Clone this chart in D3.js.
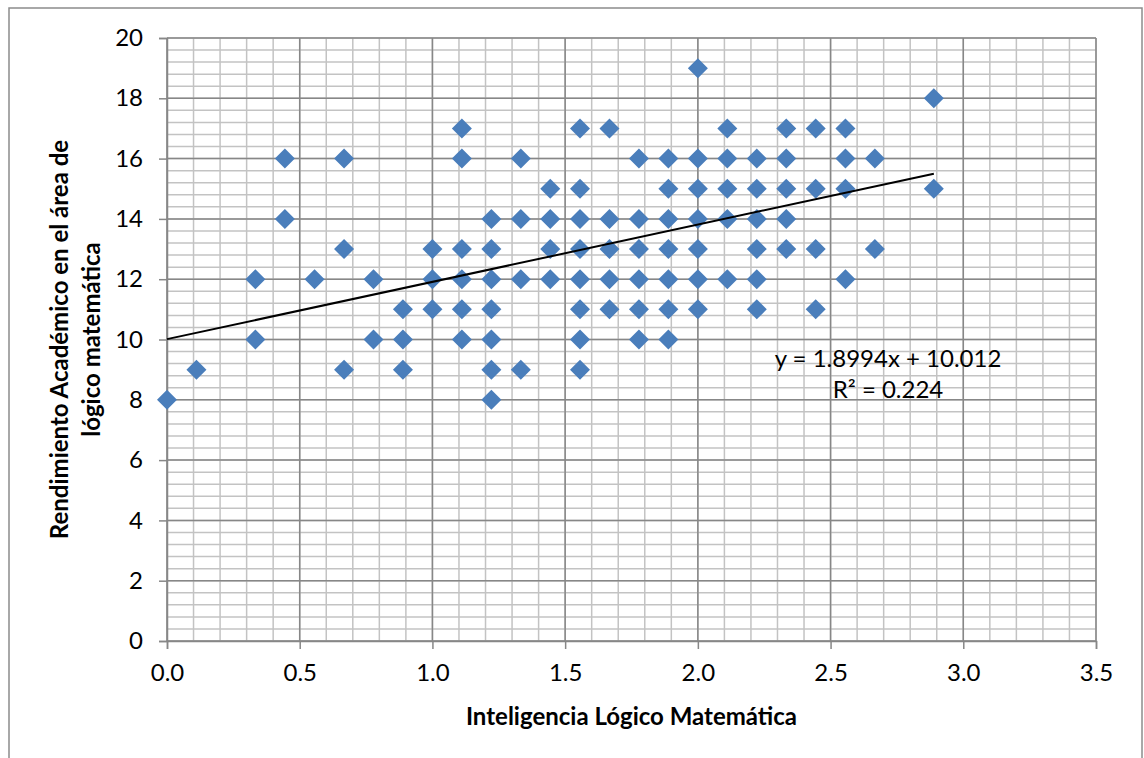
<!DOCTYPE html>
<html>
<head>
<meta charset="utf-8">
<script src="https://cdn.jsdelivr.net/npm/d3@7"></script>
<style>
  body { margin: 0; background: #fff; }
  svg { display: block; }
</style>
</head>
<body>
<svg id="chart" width="1144" height="758"></svg>
<script>
// x values (columns of points) and the y values found in each column
const xLevels = [0, 0.111, 0.333, 0.444, 0.556, 0.667, 0.778, 0.889, 1.0, 1.111, 1.222, 1.333, 1.444,
    1.556, 1.667, 1.778, 1.889, 2.0, 2.111, 2.222, 2.333, 2.444, 2.556, 2.667, 2.889]
const yByLevel = [
    [8],
    [9],
    [12, 10],
    [16, 14],
    [12],
    [16, 13, 9],
    [12, 10],
    [11, 10, 9],
    [13, 12, 11],
    [17, 16, 13, 12, 11, 10],
    [14, 13, 12, 11, 10, 9, 8],
    [16, 14, 12, 9],
    [15, 14, 13, 12],
    [17, 15, 14, 13, 12, 11, 10, 9],
    [17, 14, 13, 12, 11],
    [16, 14, 13, 12, 11, 10],
    [16, 15, 14, 13, 12, 11, 10],
    [19, 16, 15, 14, 13, 12, 11],
    [17, 16, 15, 14, 12],
    [16, 15, 14, 13, 12, 11],
    [17, 16, 15, 14, 13],
    [17, 15, 13, 11],
    [17, 16, 15, 12],
    [16, 13],
    [18, 15]
]
const xTicks = [0, 0.5, 1.0, 1.5, 2.0, 2.5, 3.0, 3.5]
const yTicks = [0, 2, 4, 6, 8, 10, 12, 14, 16, 18, 20]
const trend = { slope: 1.8994, intercept: 10.012, from: 0, to: 2.889 }
const trendLabels = ['y = 1.8994x + 10.012', 'R² = 0.224']

const font = 'Lato, "Open Sans", sans-serif'
const fontSize = '24px'
const svg = d3.select('#chart')

const x = d3.scaleLinear().domain([0, 3.5]).range([167, 1096])
const y = d3.scaleLinear().domain([0, 20]).range([641, 38])

// 外框
svg.append('rect')
    .attr('x', 9).attr('y', 8)
    .attr('width', 1133).attr('height', 760)
    .attr('fill', 'none')
    .attr('stroke', '#8c8c8c')
    .attr('stroke-width', 1.5)

// 網格: minor lines first, then major
const grid = svg.append('g')
grid.selectAll('.vminor').data(d3.range(0, 36).map(i => i * 0.1)).enter()
    .append('line')
    .attr('x1', d => x(d)).attr('x2', d => x(d))
    .attr('y1', y(0)).attr('y2', y(20))
    .attr('stroke', '#c3c3c3').attr('stroke-width', 1.5)
grid.selectAll('.hminor').data(d3.range(0, 51).map(i => i * 0.4)).enter()
    .append('line')
    .attr('x1', x(0)).attr('x2', x(3.5))
    .attr('y1', d => y(d)).attr('y2', d => y(d))
    .attr('stroke', '#c3c3c3').attr('stroke-width', 1.5)
grid.selectAll('.vmajor').data(xTicks).enter()
    .append('line')
    .attr('x1', d => x(d)).attr('x2', d => x(d))
    .attr('y1', y(0)).attr('y2', y(20))
    .attr('stroke', '#878787').attr('stroke-width', 1.5)
grid.selectAll('.hmajor').data(yTicks).enter()
    .append('line')
    .attr('x1', x(0)).attr('x2', x(3.5))
    .attr('y1', d => y(d)).attr('y2', d => y(d))
    .attr('stroke', '#878787').attr('stroke-width', 1.5)

// 軸
const xAxis = svg.append('g')
    .attr('transform', `translate(0, ${y(0)})`)
    .call(d3.axisBottom(x).tickValues(xTicks).tickFormat(d3.format('.1f')).tickSize(8).tickPadding(15))
const yAxis = svg.append('g')
    .attr('transform', `translate(${x(0)}, 0)`)
    .call(d3.axisLeft(y).tickValues(yTicks).tickFormat(d3.format('d')).tickSize(8).tickPadding(16))
;[xAxis, yAxis].forEach(function (g) {
    g.select('.domain').attr('stroke', '#878787').attr('stroke-width', 1.5)
    g.selectAll('.tick line').attr('stroke', '#878787').attr('stroke-width', 1.5)
    g.selectAll('.tick text')
        .attr('font-family', font)
        .attr('font-size', fontSize)
        .attr('fill', '#000')
})

// 散點 (diamonds)
const points = xLevels.flatMap((xv, i) => yByLevel[i].map(yv => ({ x: xv, y: yv })))
svg.append('g').selectAll('path').data(points).enter()
    .append('path')
    .attr('d', d3.symbol().type(d3.symbolSquare).size(200))
    .attr('transform', d => `translate(${x(d.x)}, ${y(d.y)}) rotate(45)`)
    .attr('fill', '#4a7ebb')

// 趨勢線
svg.append('line')
    .attr('x1', x(trend.from)).attr('y1', y(trend.slope * trend.from + trend.intercept))
    .attr('x2', x(trend.to)).attr('y2', y(trend.slope * trend.to + trend.intercept))
    .attr('stroke', '#000').attr('stroke-width', 2)

svg.append('g').selectAll('text').data(trendLabels).enter()
    .append('text')
    .text(d => d)
    .attr('x', 888)
    .attr('y', (d, i) => 367 + i * 31)
    .attr('text-anchor', 'middle')
    .attr('font-family', font)
    .attr('font-size', fontSize)
    .attr('fill', '#000')

// 軸標題
svg.append('text')
    .text('Inteligencia Lógico Matemática')
    .attr('x', (x(0) + x(3.5)) / 2)
    .attr('y', 725)
    .attr('text-anchor', 'middle')
    .attr('font-family', font)
    .attr('font-weight', 'bold')
    .attr('font-size', fontSize)

const yTitle = svg.append('text')
    .attr('transform', `translate(68, ${(y(0) + y(20)) / 2}) rotate(-90)`)
    .attr('text-anchor', 'middle')
    .attr('font-family', font)
    .attr('font-weight', 'bold')
    .attr('font-size', fontSize)
yTitle.append('tspan').attr('x', 0).attr('dy', 0).text('Rendimiento Académico en el área de')
yTitle.append('tspan').attr('x', 0).attr('dy', 32).text('lógico matemática')
</script>
</body>
</html>
